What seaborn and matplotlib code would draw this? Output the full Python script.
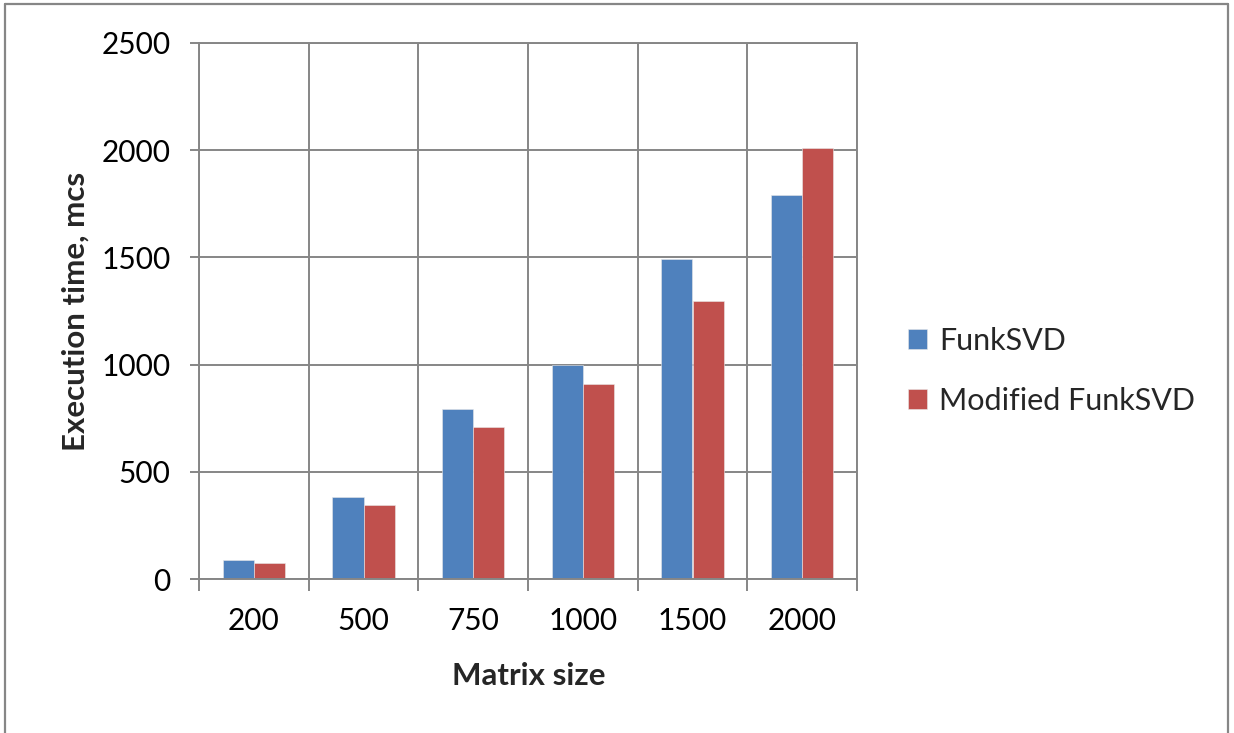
import matplotlib
matplotlib.use("Agg")
import matplotlib.pyplot as plt
from matplotlib.lines import Line2D
import seaborn as sns
import pandas as pd

# Execution time of the two algorithms per matrix size
sizes = ["200", "500", "750", "1000", "1500", "2000"]
funk_svd = [90, 385, 795, 1000, 1490, 1790]
modified_funk_svd = [75, 345, 710, 910, 1295, 2010]
series_names = ["FunkSVD", "Modified FunkSVD"]
y_ticks = [0, 500, 1000, 1500, 2000, 2500]

df = pd.DataFrame({
    "size": sizes * 2,
    "time": funk_svd + modified_funk_svd,
    "series": [series_names[0]] * len(sizes) + [series_names[1]] * len(sizes),
})

sns.set_theme(style="white")
plt.rcParams["font.family"] = ["Lato", "DejaVu Sans"]

GRID = "#868686"
palette = {series_names[0]: "#4F81BD", series_names[1]: "#C0504D"}

fig = plt.figure(figsize=(12.34, 7.33), dpi=100)
ax = fig.add_axes([199 / 1234, 1 - 579.3 / 733, 658 / 1234, 536.6 / 733])

sns.barplot(data=df, x="size", y="time", hue="series", order=sizes,
            hue_order=series_names, palette=palette, width=0.57,
            saturation=1, edgecolor="#E8E8E8", linewidth=0.4, ax=ax,
            legend=True)

ax.set_xlim(-0.5, len(sizes) - 0.5)
ax.set_ylim(0, 2500)
ax.set_yticks(y_ticks)
ax.set_yticklabels([str(v) for v in y_ticks])
ax.set_axisbelow(True)

# category boundaries carry the vertical gridlines and tick marks
ax.set_xticks([i + 0.5 for i in range(-1, len(sizes))], minor=True)
ax.tick_params(axis="x", which="major", length=0, pad=20, labelsize=21.5,
               labelcolor="black")
ax.tick_params(axis="x", which="minor", length=8.5, width=1.4, color=GRID,
               direction="out", bottom=True)
ax.tick_params(axis="y", which="major", length=6.5, width=1.4, color=GRID,
               direction="out", left=True, pad=14, labelsize=21.5,
               labelcolor="black")
ax.grid(False)
ax.grid(True, axis="x", which="minor", color=GRID, linewidth=1.4)
ax.grid(True, axis="y", which="major", color=GRID, linewidth=1.4)
for s in ax.spines.values():
    s.set_color(GRID)
    s.set_linewidth(1.4)

ax.set_xlabel("Matrix size", fontsize=22.5, fontweight="bold")
ax.set_ylabel("Execution time, mcs", fontsize=22.5, fontweight="bold")
ax.xaxis.set_label_coords(0.5015, -0.155)
ax.yaxis.set_label_coords(-0.167, 0.5)

handles, labels = ax.get_legend_handles_labels()
ax.legend(handles, labels, loc="center left",
          bbox_to_anchor=(908 / 1234, 1 - 371 / 733),
          bbox_transform=fig.transFigure, frameon=False, fontsize=22,
          handlelength=0.62, handleheight=0.62, handletextpad=0.4,
          labelspacing=1.05, borderaxespad=0, borderpad=0)

# chart frame
frame = dict(color=GRID, linewidth=1.6, transform=fig.transFigure)
fig.add_artist(Line2D([5 / 1234, 5 / 1234], [0, 1 - 4 / 733], **frame))
fig.add_artist(Line2D([5 / 1234, 1228 / 1234], [1 - 4 / 733, 1 - 4 / 733], **frame))
fig.add_artist(Line2D([1228 / 1234, 1228 / 1234], [0, 1 - 4 / 733], **frame))

fig.savefig("out.png", dpi=100)
